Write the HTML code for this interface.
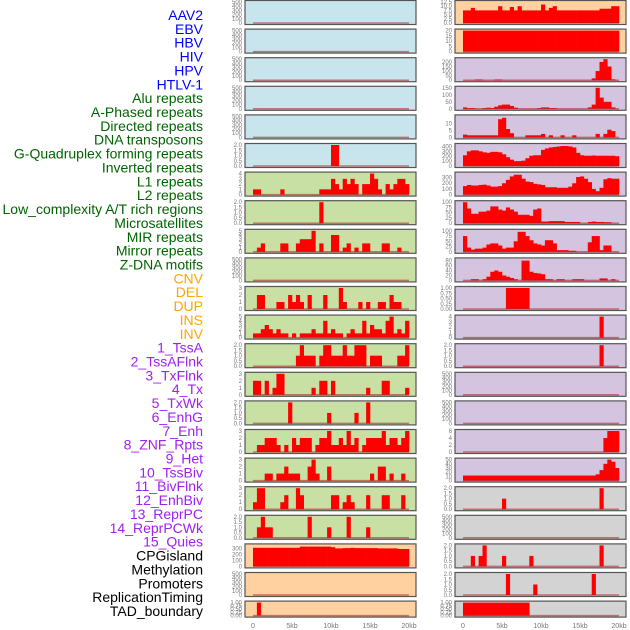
<!DOCTYPE html>
<html><head><meta charset="utf-8"><style>
html,body{margin:0;padding:0;background:#fff;}
svg{display:block;font-family:"Liberation Sans",sans-serif;}
</style></head><body>
<svg id="chart" width="630" height="630" viewBox="0 0 630 630"></svg>
<script>
const labels=["AAV2","EBV","HBV","HIV","HPV","HTLV-1","Alu repeats","A-Phased repeats","Directed repeats","DNA transposons","G-Quadruplex forming repeats","Inverted repeats","L1 repeats","L2 repeats","Low_complexity A/T rich regions","Microsatellites","MIR repeats","Mirror repeats","Z-DNA motifs","CNV","DEL","DUP","INS","INV","1_TssA","2_TssAFlnk","3_TxFlnk","4_Tx","5_TxWk","6_EnhG","7_Enh","8_ZNF_Rpts","9_Het","10_TssBiv","11_BivFlnk","12_EnhBiv","13_ReprPC","14_ReprPCWk","15_Quies","CPGisland","Methylation","Promoters","ReplicationTiming","TAD_boundary"];
const labelColors=[].concat(Array(6).fill("#0000ff"),Array(13).fill("#006400"),Array(5).fill("#ffa500"),Array(15).fill("#a020f0"),Array(5).fill("#000000"));
const xTicks=[0,5,10,15,20];
const xTickLabels=["0","5kb","10kb","15kb","20kb"];
const T500=[0,100,200,300,400,500];
const leftBg=["#c8e4ec","#c8e4ec","#c8e4ec","#c8e4ec","#c8e4ec","#c8e4ec","#c8e0a4","#c8e0a4","#c8e0a4","#c8e0a4","#c8e0a4","#c8e0a4","#c8e0a4","#c8e0a4","#c8e0a4","#c8e0a4","#c8e0a4","#c8e0a4","#c8e0a4","#ffd0a0","#ffd0a0","#ffd0a0"];
const rightBg=["#ffd0a0","#ffd0a0","#d4c4e0","#d4c4e0","#d4c4e0","#d4c4e0","#d4c4e0","#d4c4e0","#d4c4e0","#d4c4e0","#d4c4e0","#d4c4e0","#d4c4e0","#d4c4e0","#d4c4e0","#d4c4e0","#d4c4e0","#d3d3d3","#d3d3d3","#d3d3d3","#d3d3d3","#d3d3d3"];
const leftMax=[500,500,500,500,500,2,4,2,5,500,3,5,2,3,2,3,3,3,2,350,500,1];
const rightMax=[12.5,20,230,150,15,430,370,100,100,85,1,4,2,500,500,6,50,2,500,2,2,1];
const leftTicks=[T500,T500,T500,T500,T500,[0,0.5,1,1.5,2],[0,1,2,3,4],[0,0.5,1,1.5,2],[0,1,2,3,4,5],T500,[0,1,2,3],[0,1,2,3,4,5],[0,0.5,1,1.5,2],[0,1,2,3],[0,0.5,1,1.5,2],[0,1,2,3],[0,1,2,3],[0,1,2,3],[0,0.5,1,1.5,2],[0,100,200,300],T500,[0,0.25,0.5,0.75,1]];
const rightTicks=[[0,2.5,5,7.5,10,12.5],[0,5,10,15,20],[0,50,100,150,200],[0,50,100,150],[0,5,10],[0,100,200,300,400],[0,100,200,300],[0,25,50,75,100],[0,25,50,75,100],[0,20,40,60,80],[0,0.25,0.5,0.75,1],[0,1,2,3,4],[0,0.5,1,1.5,2],T500,T500,[0,2,4,6],[0,10,20,30,40,50],[0,0.5,1,1.5,2],T500,[0,0.5,1,1.5,2],[0,0.5,1,1.5,2],[0,0.25,0.5,0.75,1]];
const leftVals=[[],[],[],[],[],
[0,0,0,0,0,0,0,0,0,0,0,0,0,0,0,0,0,0,0,0,2,2,0,0,0,0,0,0,0,0,0,0,0,0,0,0,0,0,0,0],
[1,1,0,0,0,0,0,1,0,0,0,0,0,0,0,0,0,1,1,1,3,2,1,3,2,3,2,0,2,2,4,3,1,0,2,1,2,3,3,2],
[0,0,0,0,0,0,0,0,0,0,0,0,0,0,0,0,0,2,0,0,0,0,0,0,0,0,0,0,0,0,0,0,0,0,0,0,0,0,0,0],
[0,1,2,0,0,0,0,2,2,0,0,2,3,3,3,5,0,2,0,0,4,4,0,1,2,0,1,0,2,2,0,0,0,2,2,0,0,1,0,0],
[],
[0,2,2,0,0,0,1,1,0,2,1,2,1,0,2,0,0,0,2,0,0,0,3,1,0,0,0,1,0,1,0,0,1,1,0,2,1,1,0,0],
[1,1,2,3,2,1,2,1,1,0,1,0,1,1,1,2,1,1,4,1,2,1,1,0,1,2,1,1,4,1,3,2,2,1,4,5,1,2,1,4],
[0,0,0,0,0,0,0,0,0,0,0,1,2,1,1,1,0,1,2,2,1,1,1,2,1,1,2,2,2,0,1,1,1,0,0,0,0,1,1,2],
[2,2,0,2,0,1,3,3,0,0,0,0,0,0,0,1,0,2,2,0,2,0,0,0,0,0,0,0,0,1,0,0,0,2,2,0,0,0,0,1],
[0,0,0,0,0,0,0,0,0,2,0,0,0,0,0,0,0,0,0,1,0,0,0,0,0,0,1,0,0,2,0,0,0,0,0,0,0,0,0,0],
[0,1,1,2,2,2,1,0,1,0,2,1,2,2,2,0,1,2,2,3,1,1,2,1,3,1,2,0,1,2,2,2,2,3,1,2,2,1,2,3],
[0,0,0,1,1,0,1,1,2,1,1,1,0,0,2,3,1,0,0,2,0,0,0,0,0,0,0,0,0,0,1,0,2,2,0,1,0,0,1,0],
[1,3,3,0,0,0,0,1,2,0,0,3,2,0,0,0,0,0,0,0,2,2,0,1,2,1,0,0,0,2,0,0,0,2,2,0,0,0,2,0],
[0,1,2,1,1,0,0,0,0,0,0,0,0,0,2,0,0,0,0,1,0,0,0,0,2,0,0,0,0,1,0,0,0,0,0,0,0,0,0,0],
[310,310,310,310,310,310,310,310,310,310,310,310,330,330,330,330,330,330,330,330,320,300,300,305,305,310,305,305,305,305,305,305,300,300,300,300,300,290,290,290],
[],
[0,1,0,0,0,0,0,0,0,0,0,0,0,0,0,0,0,0,0,0,0,0,0,0,0,0,0,0,0,0,0,0,0,0,0,0,0,0,0,0]];
const rightVals=[
[7.5,7.5,9,7.5,7.5,7.5,7.5,7.5,7.5,10,7.5,7.5,9.5,7.5,10,7.5,7.5,7.5,7.5,7.5,11,7.5,9,10,7.5,7.5,7.5,7.5,7.5,7.5,7.5,7.5,7.5,7.5,7.5,8.5,8.5,8.5,10,10],
[20,20,20,20,20,20,20,20,20,20,20,20,20,20,20,20,20,20,20,20,20,20,20,20,20,20,20,20,20,20,20,20,20,20,20,20,20,20,20,20],
[0,0,0,8,8,0,0,0,8,8,0,0,0,0,0,0,0,0,0,0,0,0,0,0,0,0,0,0,0,0,0,0,0,20,100,200,230,150,10,0],
[10,5,5,0,0,5,8,5,15,25,30,30,20,8,0,0,0,0,0,5,10,10,5,5,0,0,0,0,0,0,0,0,10,30,150,80,50,50,10,0],
[2,1.5,1.5,1.5,1.5,1.5,1.5,1.5,1.5,13,14,6,3,0,0,0,1.5,1.5,1.5,1.5,2.5,0,1.5,0,0,1.5,0,0,1.5,0,0,0,0,0,2.5,0,2.5,5.5,4.5,0],
[220,300,320,320,300,280,270,290,290,280,240,180,130,100,100,110,160,210,220,220,330,360,380,390,400,410,410,400,380,270,220,210,210,215,210,210,210,210,210,200],
[150,170,160,160,170,175,160,140,140,150,200,260,320,350,350,280,230,220,190,180,170,130,130,130,120,120,120,140,200,310,320,280,220,100,60,120,270,290,280,280],
[100,70,45,45,55,55,60,80,80,65,60,75,65,55,40,40,40,35,65,70,8,8,10,10,10,10,6,6,6,6,0,0,6,8,6,6,5,5,0,0],
[75,20,10,15,15,20,35,40,40,30,15,20,20,50,95,95,75,55,40,35,30,55,55,40,8,8,8,5,5,0,0,0,45,75,75,8,30,30,0,0],
[0,0,5,5,0,5,15,35,40,35,20,15,10,5,0,80,80,35,30,28,25,5,5,0,5,5,0,0,5,5,5,0,0,0,0,8,8,0,5,0],
[0,0,0,0,0,0,0,0,0,0,0,1,1,1,1,1,1,0,0,0,0,0,0,0,0,0,0,0,0,0,0,0,0,0,0,0,0,0,0,0],
[0,0,0,0,0,0,0,0,0,0,0,0,0,0,0,0,0,0,0,0,0,0,0,0,0,0,0,0,0,0,0,0,0,0,0,4,0,0,0,0],
[0,0,0,0,0,0,0,0,0,0,0,0,0,0,0,0,0,0,0,0,0,0,0,0,0,0,0,0,0,0,0,0,0,0,0,2,0,0,0,0],
[],[],
[0,0,0,0,0,0,0,0,0,0,0,0,0,0,0,0,0,0,0,0,0,0,0,0,0,0,0,0,0,0,0,0,0,0,0,0,4,6,6,6],
[12,12,12,12,12,12,12,12,12,12,12,12,12,12,12,12,12,12,12,12,12,12,12,12,12,12,12,12,12,12,12,12,12,12,15,25,40,50,45,30],
[0,0,0,0,0,0,0,0,0,0,1,0,0,0,0,0,0,0,0,0,0,0,0,0,0,0,0,0,0,0,0,0,0,0,0,2,0,0,0,0],
[],
[0,0,1,0,1,2,0,0,0,0,1,0,0,0,0,0,0,1,0,0,0,0,0,0,0,0,0,0,0,0,0,0,0,0,0,2,0,0,0,0],
[0,0,0,0,0,0,0,0,0,0,0,2,0,0,0,0,0,0,1,0,0,0,0,0,0,0,0,0,0,0,0,0,0,2,0,0,0,0,0,0],
[1,1,1,1,1,1,1,1,1,1,1,1,1,1,1,1,1,0,0,0,0,0,0,0,0,0,0,0,0,0,0,0,0,0,0,0,0,0,0,0]];

const NS="http://www.w3.org/2000/svg";
const svg=document.getElementById("chart");
function mk(tag,attrs,parent){const e=document.createElementNS(NS,tag);for(const k in attrs)e.setAttribute(k,attrs[k]);(parent||svg).appendChild(e);return e;}
const NB=40, KB=20;
const cols=[{x0:245,x1:416,d0:253,d1:409},{x0:455,x1:626,d0:463,d1:619}];
function xScale(c,kb){return c.d0+(c.d1-c.d0)*kb/KB;}
function rowTop(r){return r*28.6+0.5;}
function rowH(r){return r===21?16:24;}
function decimals(ticks){let d=0;ticks.forEach(t=>{const s=String(t);if(s.indexOf('.')>=0)d=Math.max(d,s.split('.')[1].length);});return d;}

labels.forEach((t,k)=>{
  const e=mk("text",{x:203,y:15+k*13.86+5,"text-anchor":"end","font-size":"14",fill:labelColors[k]});
  e.textContent=t;
  
  
});

function drawPanel(ci,r,bg,max,ticks,vals){
  const c=cols[ci];const top=rowTop(r),h=rowH(r),bot=top+h;
  const g=mk("g",{});
  
  
  mk("rect",{x:c.x0,y:top,width:c.x1-c.x0,height:h,fill:bg},g);
  const yS=v=>bot-1.5-(v/max)*(h-3);
  const bw=(c.d1-c.d0)/NB;
  vals.forEach((v,i)=>{
    if(v<=0)return;
    const b=mk("rect",{x:c.d0+i*bw,y:yS(v),width:bw+0.3,height:yS(0)-yS(v),fill:"#ff0000"},g);
    
    
  });
  mk("line",{x1:c.d0,x2:c.d1,y1:yS(0),y2:yS(0),stroke:"rgba(170,30,30,0.55)","stroke-width":1.5},g);
  mk("rect",{x:c.x0,y:top,width:c.x1-c.x0,height:h,fill:"none",stroke:"#555","stroke-width":1.2},g);
  const d=decimals(ticks);
  ticks.forEach(t=>{
    const tl=mk("text",{x:c.x0-3,y:yS(t)+2,"text-anchor":"end","font-size":"6",fill:"#777"},g);
    tl.textContent=t.toFixed(d);
    
    
  });
}
for(let r=0;r<22;r++){
  drawPanel(0,r,leftBg[r],leftMax[r],leftTicks[r],leftVals[r]);
  drawPanel(1,r,rightBg[r],rightMax[r],rightTicks[r],rightVals[r]);
}
cols.forEach((c,ci)=>{
  xTicks.forEach((kb,i)=>{
    const t=mk("text",{x:xScale(c,kb),y:628,"text-anchor":"middle","font-size":"7",fill:"#777"});
    t.textContent=xTickLabels[i];
    
    
  });
});
</script>
</body></html>
